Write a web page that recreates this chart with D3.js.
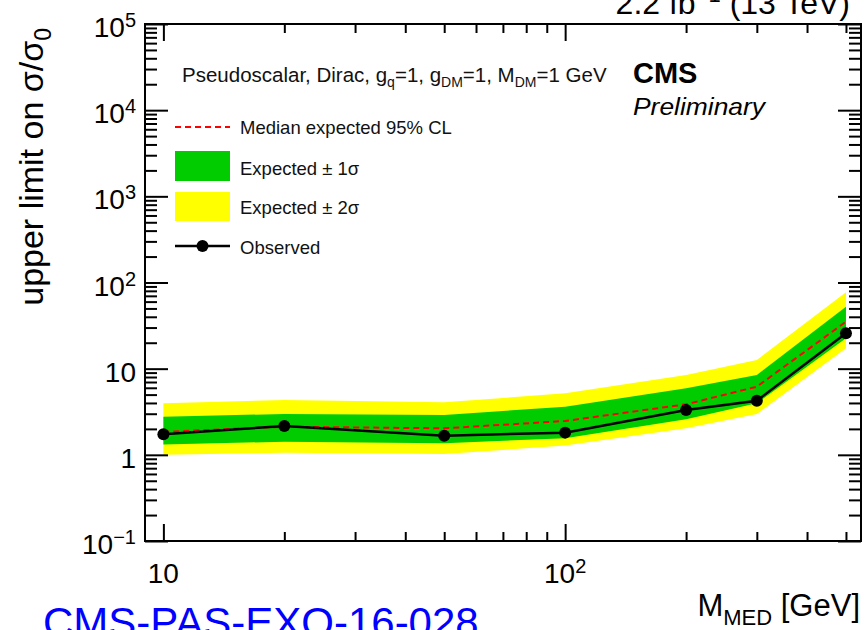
<!DOCTYPE html>
<html>
<head>
<meta charset="utf-8">
<script src="https://cdn.jsdelivr.net/npm/d3@7"></script>
<style>
  html, body { margin: 0; padding: 0; background: #fff; }
  svg { display: block; font-family: "Liberation Sans", Arial, Helvetica, sans-serif; }
</style>
</head>
<body>
<svg id="chart" width="865" height="630"></svg>
<script>
// ---- data ----
const masses   = [10, 20, 50, 100, 200, 300, 500];
const observed = [1.73, 2.16, 1.67, 1.81, 3.31, 4.25, 25.7];
const expected = [1.85, 2.12, 2.03, 2.47, 3.86, 6.18, 35.1];
const exp1Lo   = [1.32, 1.42, 1.36, 1.56, 2.58, 3.96, 22.5];
const exp1Hi   = [2.77, 2.98, 2.90, 3.62, 5.92, 8.45, 52.4];
const exp2Lo   = [1.00, 1.06, 1.02, 1.28, 2.03, 2.98, 17.2];
const exp2Hi   = [3.96, 4.33, 4.07, 5.18, 8.45, 12.6, 76.9];

const xTickValues = [10, 100];
const xTickBase   = ["10", "10"];
const xTickExp    = ["", "2"];
const xMinorTicks = [20, 30, 40, 50, 60, 70, 80, 90, 200, 300, 400, 500];

const yTickValues = [0.1, 1, 10, 100, 1000, 10000, 100000];
const yTickBase   = ["10", "1", "10", "10", "10", "10", "10"];
const yTickExp    = ["\u22121", "", "", "2", "3", "4", "5"];

const legendLabels = ["Median expected 95% CL", "Expected \u00b1 1\u03c3", "Expected \u00b1 2\u03c3", "Observed"];

// ---- layout ----
const L = 145, R = 861, T = 24, B = 541;
const svg = d3.select("#chart");

const x = d3.scaleLog().domain([9, 545]).range([L, R]);
const y = d3.scaleLog().domain([0.1, 1e5]).range([B, T]);

const yMinorTicks = [];
for (let e = -1; e < 5; e++) for (let k = 2; k <= 9; k++) yMinorTicks.push(k * Math.pow(10, e));

// ---- bands and lines ----
const idx = d3.range(masses.length);
const area = (lo, hi) => d3.area().x(i => x(masses[i])).y0(i => y(lo[i])).y1(i => y(hi[i]));
svg.append("path").attr("d", area(exp2Lo, exp2Hi)(idx)).attr("fill", "#ffff00");
svg.append("path").attr("d", area(exp1Lo, exp1Hi)(idx)).attr("fill", "#00cc00");

const line = arr => d3.line().x(i => x(masses[i])).y(i => y(arr[i]));
svg.append("path").attr("d", line(expected)(idx)).attr("fill", "none")
  .attr("stroke", "#ff0000").attr("stroke-width", 2).attr("stroke-dasharray", "6,4");
svg.append("path").attr("d", line(observed)(idx)).attr("fill", "none")
  .attr("stroke", "#000").attr("stroke-width", 2.5);
svg.selectAll("circle.obs").data(idx).enter().append("circle").attr("class", "obs")
  .attr("cx", i => x(masses[i])).attr("cy", i => y(observed[i])).attr("r", 6).attr("fill", "#000");

// ---- axes (ticks on all four sides, pointing inward) ----
function styleAxis(g) {
  g.select(".domain").remove();
  g.selectAll("line").attr("stroke", "#000").attr("stroke-width", 2);
  g.selectAll("text").remove();
}
svg.append("g").attr("transform", `translate(0,${B})`)
  .call(d3.axisBottom(x).tickValues(xTickValues).tickSize(-17).tickFormat("")).call(styleAxis);
svg.append("g").attr("transform", `translate(0,${B})`)
  .call(d3.axisBottom(x).tickValues(xMinorTicks).tickSize(-9).tickFormat("")).call(styleAxis);
svg.append("g").attr("transform", `translate(0,${T})`)
  .call(d3.axisTop(x).tickValues(xTickValues).tickSize(-17).tickFormat("")).call(styleAxis);
svg.append("g").attr("transform", `translate(0,${T})`)
  .call(d3.axisTop(x).tickValues(xMinorTicks).tickSize(-9).tickFormat("")).call(styleAxis);
svg.append("g").attr("transform", `translate(${L},0)`)
  .call(d3.axisLeft(y).tickValues(yTickValues).tickSize(-23).tickFormat("")).call(styleAxis);
svg.append("g").attr("transform", `translate(${L},0)`)
  .call(d3.axisLeft(y).tickValues(yMinorTicks).tickSize(-12).tickFormat("")).call(styleAxis);
svg.append("g").attr("transform", `translate(${R},0)`)
  .call(d3.axisRight(y).tickValues(yTickValues).tickSize(-23).tickFormat("")).call(styleAxis);
svg.append("g").attr("transform", `translate(${R},0)`)
  .call(d3.axisRight(y).tickValues(yMinorTicks).tickSize(-12).tickFormat("")).call(styleAxis);

// frame
svg.append("rect").attr("x", L).attr("y", T).attr("width", R - L).attr("height", B - T)
  .attr("fill", "none").attr("stroke", "#000").attr("stroke-width", 2);

// ---- tick labels ----
yTickValues.forEach((v, i) => {
  const t = svg.append("text").attr("x", L - 9).attr("y", y(v) + 13)
    .attr("text-anchor", "end").attr("font-size", 28).attr("fill", "#000");
  t.append("tspan").text(yTickBase[i]);
  if (yTickExp[i]) t.append("tspan").attr("dy", -10).attr("font-size", 20).text(yTickExp[i]);
});
xTickValues.forEach((v, i) => {
  const t = svg.append("text").attr("x", x(v)).attr("y", B + 42)
    .attr("text-anchor", "middle").attr("font-size", 28).attr("fill", "#000");
  t.append("tspan").text(xTickBase[i]);
  if (xTickExp[i]) t.append("tspan").attr("dy", -10).attr("font-size", 20).text(xTickExp[i]);
});

// ---- axis titles ----
const yt = svg.append("text").attr("transform", "translate(43,28) rotate(-90)")
  .attr("text-anchor", "end").attr("font-size", 34).attr("fill", "#000");
yt.append("tspan").text("upper limit on \u03c3/\u03c3");
yt.append("tspan").attr("dy", 8).attr("font-size", 23).text("0");

const xt = svg.append("text").attr("x", 860).attr("y", 616)
  .attr("text-anchor", "end").attr("font-size", 31).attr("fill", "#000");
xt.append("tspan").text("M");
xt.append("tspan").attr("dy", 9).attr("font-size", 22).text("MED");
xt.append("tspan").attr("dy", -9).text(" [GeV]");

// top-right luminosity label (clipped by page top, as in the reference)
const lt = svg.append("text").attr("x", 850).attr("y", 14)
  .attr("text-anchor", "end").attr("font-size", 32).attr("fill", "#000");
lt.append("tspan").text("2.2 fb");
lt.append("tspan").attr("dy", -12).attr("font-size", 22).text("\u22121");
lt.append("tspan").attr("dy", 12).text(" (13 TeV)");

// CMS Preliminary
svg.append("text").attr("x", 633).attr("y", 83).attr("font-size", 29).attr("font-weight", "bold")
  .attr("fill", "#000").text("CMS");
svg.append("text").attr("x", 633).attr("y", 115).attr("font-size", 24).attr("font-style", "italic")
  .attr("textLength", 132).attr("lengthAdjust", "spacingAndGlyphs")
  .attr("fill", "#000").text("Preliminary");

// ---- legend ----
const hd = svg.append("text").attr("x", 182).attr("y", 82).attr("font-size", 20.5).attr("fill", "#111");
hd.append("tspan").text("Pseudoscalar, Dirac, g");
hd.append("tspan").attr("dy", 5).attr("font-size", 14).text("q");
hd.append("tspan").attr("dy", -5).text("=1, g");
hd.append("tspan").attr("dy", 5).attr("font-size", 14).text("DM");
hd.append("tspan").attr("dy", -5).text("=1, M");
hd.append("tspan").attr("dy", 5).attr("font-size", 14).text("DM");
hd.append("tspan").attr("dy", -5).text("=1 GeV");

const lx0 = 175, lx1 = 230, ltx = 240;
svg.append("line").attr("x1", lx0).attr("x2", lx1).attr("y1", 127).attr("y2", 127)
  .attr("stroke", "#ff0000").attr("stroke-width", 2).attr("stroke-dasharray", "6,4");
svg.append("rect").attr("x", lx0).attr("y", 151).attr("width", lx1 - lx0).attr("height", 30).attr("fill", "#00cc00");
svg.append("rect").attr("x", lx0).attr("y", 192).attr("width", lx1 - lx0).attr("height", 29).attr("fill", "#ffff00");
svg.append("line").attr("x1", lx0).attr("x2", lx1).attr("y1", 246).attr("y2", 246)
  .attr("stroke", "#000").attr("stroke-width", 2.5);
svg.append("circle").attr("cx", (lx0 + lx1) / 2).attr("cy", 246).attr("r", 6).attr("fill", "#000");

const legY = [134, 175, 214, 254];
legendLabels.forEach((s, i) => {
  svg.append("text").attr("x", ltx).attr("y", legY[i]).attr("font-size", 18.5)
    .attr("fill", "#111").text(s);
});

// document reference (clipped by page bottom, as in the reference)
svg.append("text").attr("x", 43).attr("y", 637).attr("font-size", 42)
  .attr("fill", "#0000ff").text("CMS-PAS-EXO-16-028");
</script>
</body>
</html>
